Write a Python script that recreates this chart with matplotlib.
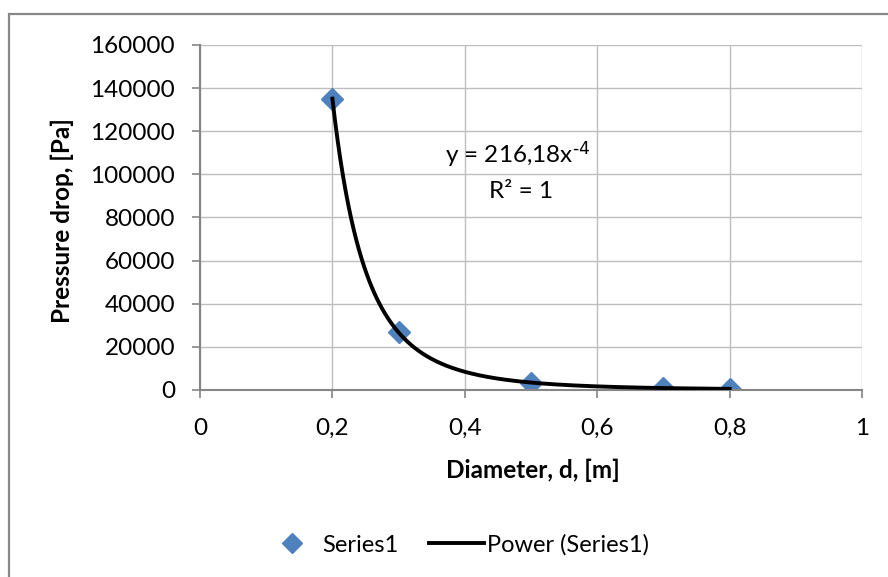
import numpy as np
import matplotlib
matplotlib.use("Agg")
import matplotlib.pyplot as plt
from matplotlib.ticker import FuncFormatter, MultipleLocator
from matplotlib.lines import Line2D
from matplotlib.patches import Rectangle

plt.rcParams['font.family'] = ['Lato', 'DejaVu Sans']
plt.rcParams['mathtext.default'] = 'regular'

# Measured pressure drop against pipe diameter
diameter = [0.2, 0.3, 0.5, 0.7, 0.8]
pressure_drop = [135113, 26689, 3459, 900, 528]

# Power trendline y = a * x^b
coef_a = 216.18
exp_b = -4

series_label = "Series1"
trend_label = "Power (Series1)"
x_label = "Diameter, d, [m]"
y_label = "Pressure drop, [Pa]"

fig = plt.figure(figsize=(8.88, 5.77), dpi=100)

# chart frame
fig.patches.append(Rectangle((9 / 888, -0.05), 1.0, 1 - 14 / 577 + 0.05,
                             transform=fig.transFigure, fill=False,
                             edgecolor='#888888', linewidth=1.6))

ax = fig.add_axes([200 / 888, 1 - 390 / 577, 662 / 888, 345 / 577])

xt = np.linspace(min(diameter), max(diameter), 300)
ax.plot(xt, coef_a * xt ** exp_b, color='black', linewidth=2.8, zorder=3)
ax.plot(diameter, pressure_drop, linestyle='none', marker='D',
        markersize=11, color='#4F81BD', zorder=2)

ax.set_xlim(0, 1)
ax.set_ylim(0, 160000)
ax.xaxis.set_major_locator(MultipleLocator(0.2))
ax.yaxis.set_major_locator(MultipleLocator(20000))

def comma_fmt(v, pos):
    s = f"{v:.1f}".rstrip('0').rstrip('.')
    return s.replace('.', ',')

ax.xaxis.set_major_formatter(FuncFormatter(comma_fmt))
ax.yaxis.set_major_formatter(FuncFormatter(lambda v, p: f"{int(round(v))}"))

ax.grid(True, color='#BEBEBE', linewidth=1.0)
ax.set_axisbelow(True)
for side in ['top', 'right']:
    ax.spines[side].set_visible(False)
for side in ['left', 'bottom']:
    ax.spines[side].set_color('#868686')
    ax.spines[side].set_linewidth(1.5)

ax.tick_params(axis='both', colors='#868686', length=6, width=1.2,
               labelcolor='black', labelsize=17.5)
ax.tick_params(axis='y', pad=12)
ax.tick_params(axis='x', pad=14)

fig.text(533 / 888, 1 - 470 / 577, x_label, ha='center', va='center',
         fontsize=17.5, fontweight='bold')
fig.text(62 / 888, 1 - 221 / 577, y_label, ha='center', va='center',
         rotation=90, fontsize=17.5, fontweight='bold')

# trendline equation
ax.text(0.370, 105300, r"y = 216,18x$^{\text{-4}}$", ha='left',
        va='baseline', fontsize=17.5)
ax.text(0.485, 89000, "R² = 1", ha='center', va='baseline', fontsize=17.5)

handles = [
    Line2D([], [], linestyle='none', marker='D', markersize=10,
           color='#4F81BD'),
    Line2D([], [], color='black', linewidth=2.8),
]
fig.legend(handles, [series_label, trend_label], loc='center',
           bbox_to_anchor=(457 / 888, 1 - 545 / 577), ncol=2, frameon=False,
           fontsize=17, handlelength=2.3, columnspacing=1.3,
           handletextpad=0.15)

fig.savefig("out.png", dpi=100)
